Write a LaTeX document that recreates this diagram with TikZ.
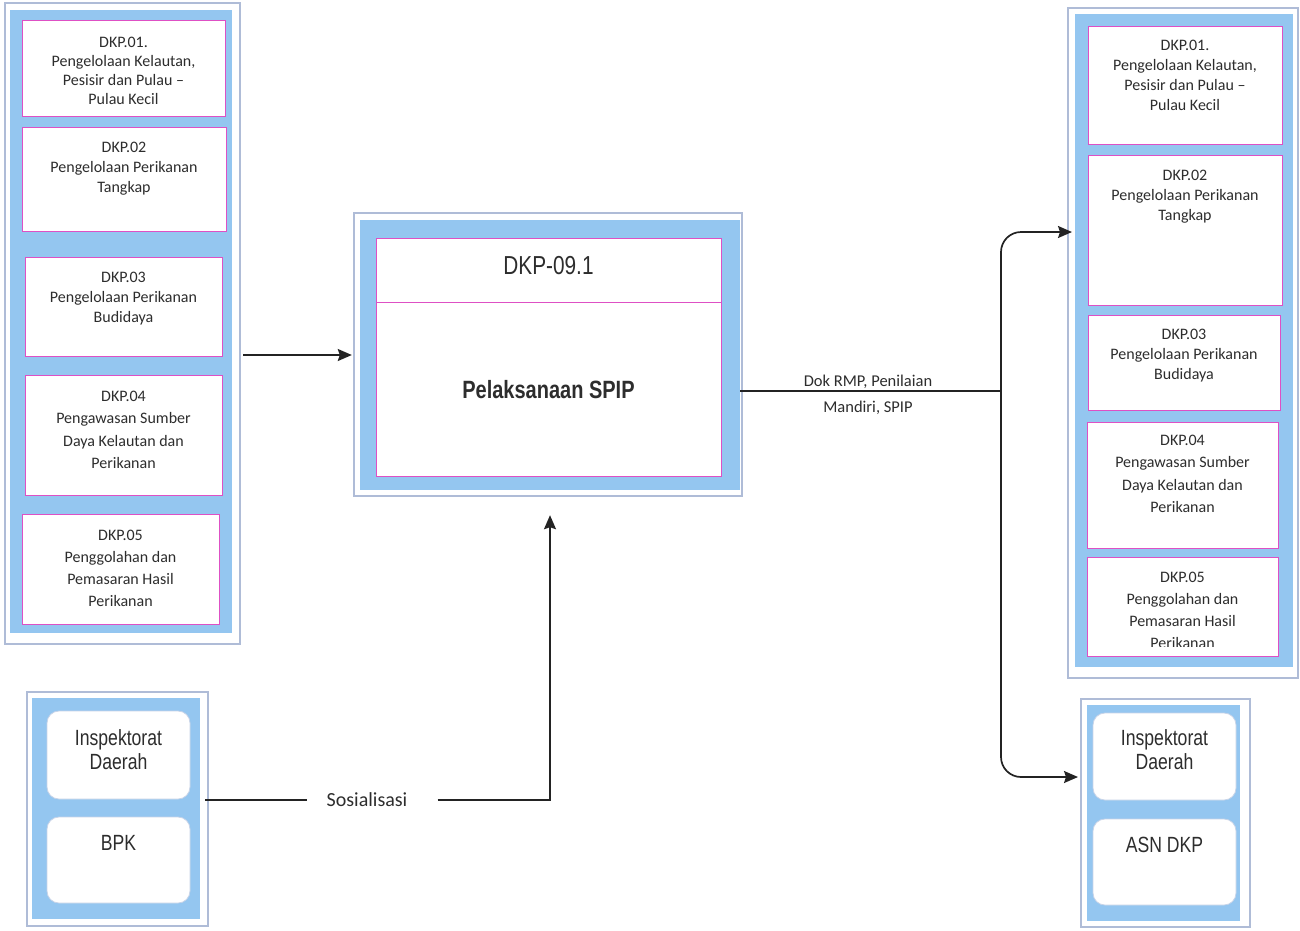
\documentclass[tikz,border=0pt]{standalone}
\usepackage{fontspec}
\newfontfamily\calfont[Ligatures=TeX]{Carlito}
\newfontfamily\narfont[FakeStretch=0.8]{Liberation Sans}
\usetikzlibrary{arrows.meta}
\definecolor{boxblue}{RGB}{148,198,240}
\definecolor{pinkline}{RGB}{222,80,196}
\definecolor{shadowline}{RGB}{175,188,215}
\definecolor{txtgray}{RGB}{45,45,45}
\definecolor{lineblack}{RGB}{35,35,35}
\definecolor{softedge}{RGB}{200,212,232}
\tikzset{
  cont/.style={fill=boxblue, draw=none, inner sep=0pt},
  outl/.style={draw=shadowline, line width=1.3pt},
  wbox/.style={fill=white, draw=pinkline, line width=1pt},
  rbox/.style={fill=white, draw=softedge, line width=0.8pt, rounded corners=12pt},
  btxt/.style={align=center, inner sep=0pt, text=txtgray, anchor=north},
  ntxt/.style={align=center, inner sep=0pt, text=txtgray},
  conn/.style={draw=lineblack, line width=1.7pt},
  arr/.style={conn, -{Stealth[length=14pt,width=12pt,inset=2pt]}},
}
\begin{document}
\begin{tikzpicture}[x=1pt,y=-1pt]
\useasboundingbox (0,0) rectangle (1300,930);
\fill[white] (0,0) rectangle (1300,930);

% ---------- outlines (shadow frames)
\draw[outl] (5,3) rectangle (240,644);
\draw[outl] (354,213) rectangle (742,496);
\draw[outl] (1068,8) rectangle (1298,678);
\draw[outl] (27,692) rectangle (208,926);
\draw[outl] (1081,699) rectangle (1250,927);

% ---------- containers
\node[cont, minimum width=222pt, minimum height=623pt] (Lcol) at (121,321.5) {};
\node[cont, minimum width=380pt, minimum height=270pt] (C) at (550,355) {};
\node[cont, minimum width=218pt, minimum height=653pt] (R) at (1184,340.5) {};
\node[cont, minimum width=168pt, minimum height=221pt] (BL) at (116,808.5) {};
\node[cont, minimum width=153pt, minimum height=216pt] (BR) at (1163.5,813) {};

% ---------- left column boxes
\draw[wbox] (22,20) rectangle (225,116);
\draw[wbox] (22,127) rectangle (226,231);
\draw[wbox] (25,257) rectangle (222,356);
\draw[wbox] (25,375) rectangle (222,495);
\draw[wbox] (22,514) rectangle (219,624);
\node[btxt, font={\calfont\fontsize{16}{19}\selectfont}] (l1) at (123.5,37)
  {DKP.01.\\Pengelolaan Kelautan,\\Pesisir dan Pulau –\\Pulau Kecil};
\node[btxt, font={\calfont\fontsize{16}{20}\selectfont}] (l2) at (124,142)
  {DKP.02\\Pengelolaan Perikanan\\Tangkap};
\node[btxt, font={\calfont\fontsize{16}{20}\selectfont}] (l3) at (123.5,272)
  {DKP.03\\Pengelolaan Perikanan\\Budidaya};
\node[btxt, font={\calfont\fontsize{16}{22.3}\selectfont}] (l4) at (123.5,391)
  {DKP.04\\Pengawasan Sumber\\Daya Kelautan dan\\Perikanan};
\node[btxt, font={\calfont\fontsize{16}{22}\selectfont}] (l5) at (120.5,530)
  {DKP.05\\Penggolahan dan\\Pemasaran Hasil\\Perikanan};

% ---------- centre box
\draw[wbox] (376,238) rectangle (721,476);
\draw[draw=pinkline, line width=1pt] (376,302) -- (721,302);
\node[ntxt, font={\narfont\fontsize{26}{30}\selectfont}] (ctitle) at (548.5,266) {DKP-09.1};
\node[ntxt, font={\narfont\bfseries\fontsize{25}{30}\selectfont}] (cbody) at (548.5,390) {Pelaksanaan SPIP};

% ---------- right column boxes
\draw[wbox] (1088,26) rectangle (1282,144);
\draw[wbox] (1088,155) rectangle (1282,305);
\draw[wbox] (1088,315) rectangle (1280,410);
\draw[wbox] (1087,422) rectangle (1278,548);
\draw[wbox] (1087,557) rectangle (1278,656);
\node[btxt, font={\calfont\fontsize{16}{20}\selectfont}] (r1) at (1185,40)
  {DKP.01.\\Pengelolaan Kelautan,\\Pesisir dan Pulau –\\Pulau Kecil};
\node[btxt, font={\calfont\fontsize{16}{20}\selectfont}] (r2) at (1185,170)
  {DKP.02\\Pengelolaan Perikanan\\Tangkap};
\node[btxt, font={\calfont\fontsize{16}{20}\selectfont}] (r3) at (1184,329)
  {DKP.03\\Pengelolaan Perikanan\\Budidaya};
\node[btxt, font={\calfont\fontsize{16}{22.3}\selectfont}] (r4) at (1182.5,435)
  {DKP.04\\Pengawasan Sumber\\Daya Kelautan dan\\Perikanan};
\begin{scope}
  \clip (1087,557) rectangle (1278,646);
  \node[btxt, font={\calfont\fontsize{16}{22}\selectfont}] (r5) at (1182.5,572)
    {DKP.05\\Penggolahan dan\\Pemasaran Hasil\\Perikanan};
\end{scope}

% ---------- bottom-left
\draw[rbox] (47,711) rectangle (190,799);
\draw[rbox] (47,817) rectangle (190,903);
\node[ntxt, font={\narfont\fontsize{22}{24}\selectfont}] (bl1) at (118.5,750) {Inspektorat\\Daerah};
\node[ntxt, font={\narfont\fontsize{22}{24}\selectfont}] (bl2) at (118.5,843) {BPK};

% ---------- bottom-right
\draw[rbox] (1093,713) rectangle (1236,800);
\draw[rbox] (1093,819) rectangle (1236,905);
\node[ntxt, font={\narfont\fontsize{22}{24}\selectfont}] (br1) at (1164.5,750) {Inspektorat\\Daerah};
\node[ntxt, font={\narfont\fontsize{22}{24}\selectfont}] (br2) at (1164.5,845) {ASN DKP};

% ---------- connectors
\draw[arr, shorten <=11pt, shorten >=8pt] (Lcol.east |- C.west) -- (C.west);

\node[ntxt, font={\calfont\fontsize{20}{24}\selectfont}] (Sos) at (367,800) {Sosialisasi};
\draw[conn, shorten <=5pt, shorten >=19pt] (BL.east |- Sos) -- (Sos.west);
\draw[arr, shorten <=30pt, shorten >=25pt] (Sos.east) -| (C.south);

\coordinate (J) at (1001,391);
\coordinate (T1) at (1072,232);
\coordinate (T2) at (1078,777);
\draw[conn] (C.east |- J) -- (J);
\node[btxt, font={\calfont\fontsize{16.5}{26}\selectfont}] (dok) at (868,375)
  {Dok RMP, Penilaian\\Mandiri, SPIP};
\draw[arr, rounded corners=20pt] (J) |- (T1);
\draw[arr, rounded corners=20pt] (J) |- (T2);
\end{tikzpicture}
\end{document}
